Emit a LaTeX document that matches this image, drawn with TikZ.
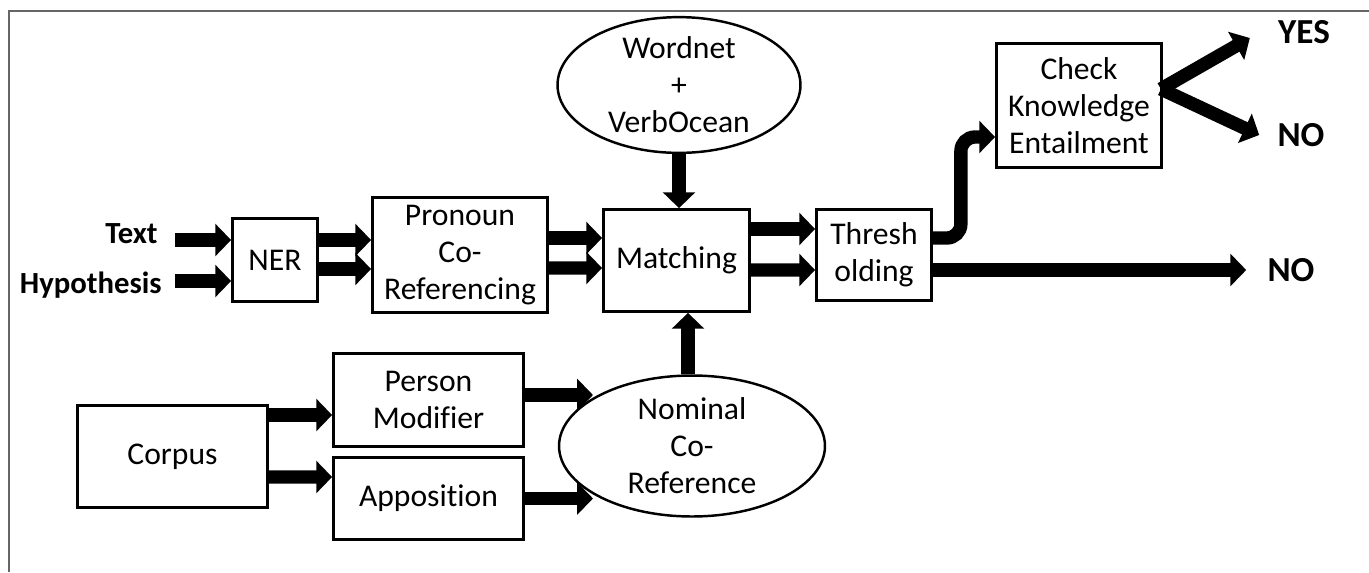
\documentclass[tikz,border=0pt]{standalone}
\usepackage{fontspec}
\setmainfont{Carlito}[Ligatures=NoCommon]
\usetikzlibrary{shapes.geometric,arrows.meta,calc}

\begin{document}
\begin{tikzpicture}[x=0.02cm, y=-0.02cm,
    font=\fontsize{18}{21}\selectfont,
    blk/.style={draw, line width=1.6pt, align=center, inner sep=0pt},
    oval/.style={ellipse, draw, line width=1.4pt, align=center, inner sep=0pt},
    lbl/.style={font=\fontsize{17.5}{21}\selectfont\bfseries, inner sep=0pt},
    ans/.style={font=\fontsize{20}{24}\selectfont\bfseries, inner sep=0pt},
    fat/.style={line width=7.6pt, -{Triangle[width=18pt,length=9pt]}},
  ]
  \useasboundingbox (0,0) rectangle (1369,572);
  \draw[line width=1pt, black!60] (9,572) -- (9,11) -- (1369,11);

  % inputs
  \node[lbl, anchor=base east] (txt) at (158,243) {Text};
  \node[lbl, anchor=base east] (hyp) at (162,293) {Hypothesis};
  \coordinate (t1) at (175,240);
  \coordinate (h1) at (175,281);

  % boxes
  \node[blk, minimum width=1.7cm, minimum height=1.66cm] (ner) at (275,260) {NER};
  \node[blk, minimum width=3.5cm, minimum height=2.3cm] (pro) at (460,255) {Pronoun\\Co-\\Referencing};
  \node[blk, minimum width=2.92cm, minimum height=2.04cm] (match) at (676.5,260.5) {Matching};
  \node[blk, minimum width=2.3cm, minimum height=1.82cm] (thr) at (874,255) {Thresh\\olding};
  \node[blk, minimum width=3.3cm, minimum height=2.48cm] (chk) at (1079,105.5) {Check\\Knowledge\\Entailment};
  \node[blk, minimum width=3.8cm, minimum height=2.04cm] (corp) at (172.5,456.5) {Corpus};
  \node[blk, minimum width=3.8cm, minimum height=1.86cm] (pers) at (428.5,400) {Person\\Modifier};
  \node[blk, minimum width=3.8cm, minimum height=1.64cm] (appo) at (428.5,498.5) {Apposition};
  \node[oval, minimum width=4.86cm, minimum height=2.46cm] (wn) at (679,85) {Wordnet\\+\\VerbOcean};
  \node[oval, minimum width=5.32cm, minimum height=2.82cm] (nom) at (692,446) {Nominal\\Co-\\Reference};

  % outputs
  \node[ans] (yes) at (1304,32) {YES};
  \node[ans] (no1) at (1301,135) {NO};
  \node[ans] (no2) at (1291,270) {NO};

  % arrows
  \draw[fat] (t1) -- (t1 -| ner.west);
  \draw[fat] (h1) -- (h1 -| ner.west);
  \draw[fat] ($(ner.east)+(0,-20)$) -- ($(pro.west)+(0,-15)$);
  \draw[fat] ($(ner.east)+(0,9)$) -- ($(pro.west)+(0,14)$);
  \draw[fat] ($(pro.east)+(0,-17)$) -- ($(match.west)+(0,-22.5)$);
  \draw[fat] ($(pro.east)+(0,13)$) -- ($(match.west)+(0,7.5)$);
  \draw[fat] ($(match.east)+(0,-31.5)$) -- ($(thr.west)+(0,-26)$);
  \draw[fat] ($(match.east)+(0,9.5)$) -- ($(thr.west)+(0,15)$);
  \draw[fat] (wn.south) -- (wn.south |- match.north);
  \draw[fat] ($(nom.north)+(-4,0)$) -- ($(nom.north |- match.south)+(-4,0)$);
  \draw[fat] ($(corp.east)+(0,-41.5)$) -- ($(pers.west)+(0,15)$);
  \draw[fat] ($(corp.east)+(0,20.5)$) -- ($(appo.west)+(0,-21.5)$);
  \draw[fat] ($(pers.east)+(0,-5)$) -- ($(nom.center)+(-99,-51)$);
  \draw[fat] (appo.east) -- ($(nom.center)+(-99,52.5)$);
  \draw[fat, rounded corners=8pt] ($(thr.east)+(0,-17)$) -- ++(28,0) |- ($(chk.west)+(0,31.5)$);
  \draw[fat] ($(thr.east)+(0,15)$) -- ($(no2.west)+(-21,0)$);
  \draw[fat] ($(chk.east)+(-2,-16.5)$) -- ($(yes.west)+(-28,6)$);
  \draw[fat] ($(chk.east)+(-2,-16.5)$) -- ($(no1.west)+(-18,0)$);
\end{tikzpicture}
\end{document}
